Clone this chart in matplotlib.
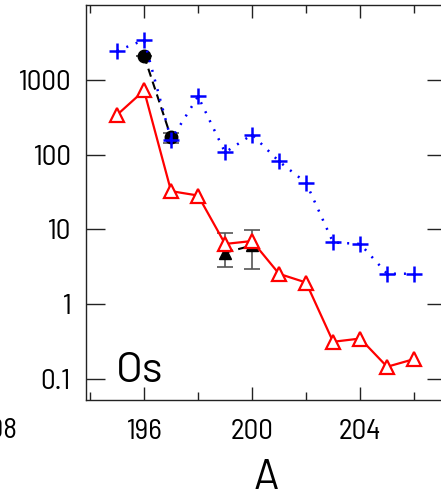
import matplotlib
matplotlib.use("Agg")
import matplotlib.pyplot as plt
from matplotlib.ticker import FixedLocator, NullLocator, FixedFormatter

plt.rcParams['font.family'] = ['Barlow Semi Condensed', 'DejaVu Sans']

# Blue "+" series (dotted)
A_blue = [195, 196, 197, 198, 199, 200, 201, 202, 203, 204, 205, 206]
y_blue = [2440, 3400, 158, 600, 107, 185, 81, 42, 6.7, 6.4, 2.56, 2.56]

# Red open triangles (solid)
A_red = [195, 196, 197, 198, 199, 200, 201, 202, 203, 204, 205, 206]
y_red = [340, 720, 32.5, 28.4, 6.4, 7.0, 2.55, 1.95, 0.315, 0.348, 0.146, 0.185]

# Black circles (dashed)
A_circ = [196, 197]
y_circ = [2090, 170]
err_circ = [0, 25]

# Black filled triangles with error bars
A_tri = [199, 200]
y_tri = [4.9, 6.1]
err_lo = [1.8, 3.1]
err_hi = [4.1, 3.6]

xticks_major = [196, 200, 204]
xticks_minor = [194, 198, 202, 206]
yticks = [0.1, 1, 10, 100, 1000]
ytick_labels = ['0.1', '1', '10', '100', '1000']

W, H = 441, 497
fig = plt.figure(figsize=(W / 100, H / 100), dpi=100)
ax = fig.add_axes([86 / W, (H - 400) / H, (446 - 86) / W, (400 - 5) / H])

ax.plot(A_blue, y_blue, color='#0000ff', linestyle=(0, (0.8, 3.2)), lw=1.8,
        marker='+', ms=11, mew=1.8, zorder=4)
ax.plot(A_red, y_red, color='#ff0000', linestyle='-', lw=1.6,
        marker='^', ms=10, mfc='white', mec='#ff0000', mew=1.6, zorder=3)
ax.errorbar(A_circ, y_circ, yerr=err_circ, color='black', linestyle=(0, (4, 2.5)),
            lw=1.5, marker='o', ms=9, ecolor='#555555', elinewidth=1.2,
            capsize=6, capthick=1.2, zorder=3.5)
ax.errorbar(A_tri, y_tri, yerr=[err_lo, err_hi], color='black', linestyle=(0, (4, 2.5)),
            lw=1.5, marker='^', ms=9, ecolor='#555555', elinewidth=1.2,
            capsize=6, capthick=1.2, zorder=2.5)

ax.set_yscale('log')
ax.set_xlim(193.85, 207.18)
ax.set_ylim(0.0525, 10000)

ax.yaxis.set_major_locator(FixedLocator(yticks))
ax.yaxis.set_major_formatter(FixedFormatter(ytick_labels))
ax.yaxis.set_minor_locator(NullLocator())
ax.xaxis.set_major_locator(FixedLocator(xticks_major))
ax.xaxis.set_minor_locator(FixedLocator(xticks_minor))
ax.xaxis.set_major_formatter(FixedFormatter([str(v) for v in xticks_major]))

ax.tick_params(axis='both', which='both', direction='in', color='#222222', width=1.0)
ax.tick_params(axis='x', which='major', length=9.5, top=True, pad=14, labelsize=21)
ax.tick_params(axis='x', which='minor', length=6, top=True)
ax.tick_params(axis='y', which='major', length=13.5, right=True, pad=11, labelsize=21)

for s in ax.spines.values():
    s.set_linewidth(1.0)
    s.set_color('#222222')

ax.set_xlabel('A', fontsize=30, labelpad=10, family=['Barlow', 'DejaVu Sans'])
ax.text(0.083, 0.0456, 'Os', transform=ax.transAxes, fontsize=31,
        ha='left', va='baseline', family=['Barlow', 'DejaVu Sans'])

fig.text(18 / W, (H - 431) / H, '208', fontsize=21, ha='right', va='center')

fig.savefig('out.png', dpi=100)
